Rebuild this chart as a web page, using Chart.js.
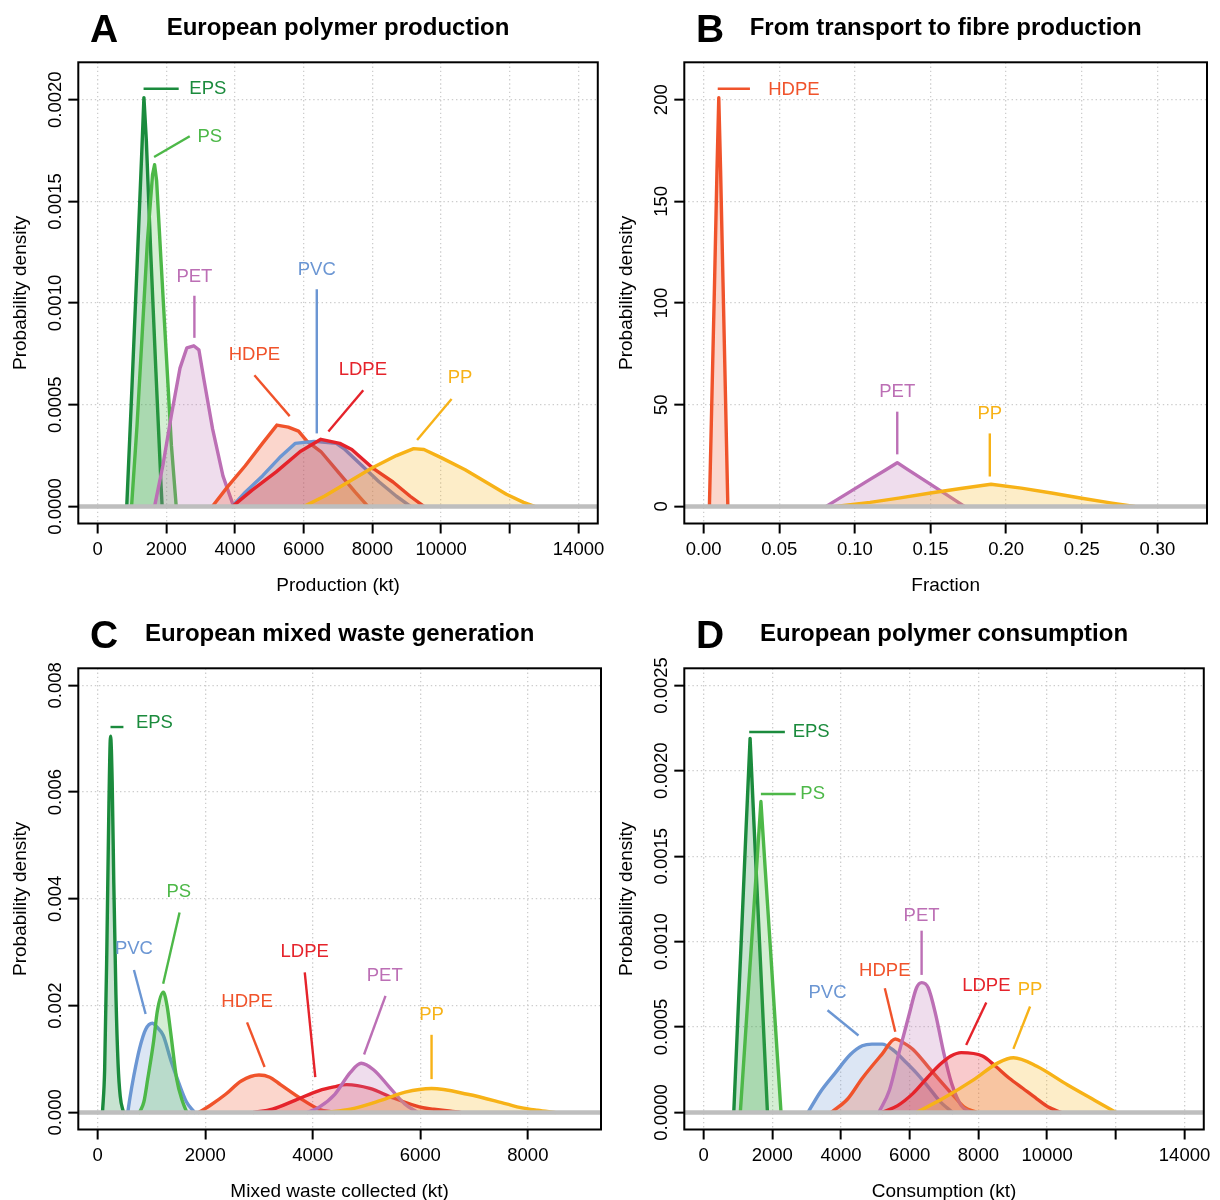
<!DOCTYPE html>
<html>
<head>
<meta charset="utf-8">
<script src="https://cdn.jsdelivr.net/npm/chart.js@4.4.1/dist/chart.umd.min.js"></script>
<style>
html,body{margin:0;padding:0;background:#fff;overflow:hidden;width:1220px;height:1200px;}
.panel{position:absolute;width:610px;height:600px;}
canvas{display:block;}
</style>
</head>
<body>
<div class="panel" style="left:0;top:0"><canvas id="cA" width="610" height="600"></canvas></div>
<div class="panel" style="left:606px;top:0"><canvas id="cB" width="610" height="600"></canvas></div>
<div class="panel" style="left:0;top:606px"><canvas id="cC" width="610" height="600"></canvas></div>
<div class="panel" style="left:606px;top:606px"><canvas id="cD" width="610" height="600"></canvas></div>
<script>
// ---------------- DATA ----------------
// Panel A: European polymer production (x = kt, y = probability density)
const A_EPS  = [[850,0],[1000,0.00058],[1150,0.00118],[1280,0.00171],[1350,0.00201],[1420,0.0018],[1550,0.00124],[1700,0.00066],[1850,0.0001],[1880,0]];
const A_PS   = [[990,0],[1150,0.0004],[1300,0.00085],[1450,0.0013],[1600,0.00163],[1660,0.00168],[1720,0.0016],[1850,0.0012],[2000,0.00075],[2150,0.0003],[2290,0]];
const A_PET  = [[1660,0],[1900,0.0002],[2150,0.00045],[2400,0.00068],[2600,0.00078],[2800,0.00079],[2950,0.00077],[3100,0.00062],[3350,0.00038],[3650,0.00015],[3960,0]];
const A_HDPE = [[3340,0],[3800,0.0001],[4300,0.0002],[4800,0.00031],[5220,0.0004],[5550,0.00039],[5850,0.00037],[6100,0.00032],[6500,0.00027],[7000,0.00017],[7500,0.00007],[7870,0]];
const A_PVC  = [[3920,0],[4300,0.00007],[4800,0.00015],[5300,0.00024],[5750,0.00031],[6300,0.00032],[6950,0.00031],[7200,0.00028],[7700,0.0002],[8200,0.00012],[8700,0.00005],[9110,0]];
const A_LDPE = [[3930,0],[4500,0.00008],[5200,0.00017],[5900,0.00027],[6500,0.00033],[7050,0.00031],[7400,0.00028],[8000,0.00019],[8600,0.00012],[9100,0.00005],[9500,0]];
const A_PP   = [[6000,0],[6600,0.00005],[7300,0.00012],[8000,0.00019],[8700,0.00025],[9200,0.000284],[9500,0.00028],[10000,0.00024],[10700,0.00018],[11300,0.00012],[11900,0.00006],[12400,0.00002],[12720,0]];
const A_xTicks  = [0,2000,4000,6000,8000,10000,12000,14000];
const A_xLabels = ['0','2000','4000','6000','8000','10000','','14000'];
const A_yTicks  = [0,0.0005,0.001,0.0015,0.002];
const A_yLabels = ['0.0000','0.0005','0.0010','0.0015','0.0020'];
const A_notes = [
  {name:'EPS',  align:'left',   at:[2671,0.002051],  line:[[1340,0.002054],[2362,0.002054]]},
  {name:'PS',   align:'left',   at:[2909,0.001816],  line:[[1646,0.001718],[2683,0.00182]]},
  {name:'PET',  align:'center', at:[2819,0.00113],   line:[[2819,0.001036],[2819,0.000829]]},
  {name:'HDPE', align:'center', at:[4566,0.000744],  line:[[4566,0.000645],[5592,0.000444]]},
  {name:'PVC',  align:'center', at:[6381,0.001162],  line:[[6381,0.001068],[6381,0.000359]]},
  {name:'LDPE', align:'center', at:[7723,0.000673],  line:[[7734,0.000571],[6719,0.000368]]},
  {name:'PP',   align:'center', at:[10552,0.000632], line:[[10305,0.000528],[9301,0.000327]]}
];

// Panel B: From transport to fibre production (x = fraction)
const B_HDPE = [[0.0038,0],[0.0055,55],[0.0072,110],[0.0088,165],[0.0100,201],[0.0112,165],[0.0128,110],[0.0144,55],[0.0160,0]];
const B_PET  = [[0.081,0],[0.095,6.4],[0.11,13.3],[0.12,17.8],[0.128,21.5],[0.135,18.1],[0.145,13.3],[0.158,7],[0.1725,0]];
const B_PP   = [[0.087,0],[0.11,2],[0.13,4.2],[0.15,6.6],[0.17,8.8],[0.19,10.9],[0.21,9],[0.23,6.6],[0.25,4],[0.27,1.6],[0.285,0]];
const B_xTicks  = [0,0.05,0.10,0.15,0.20,0.25,0.30];
const B_xLabels = ['0.00','0.05','0.10','0.15','0.20','0.25','0.30'];
const B_yTicks  = [0,50,100,150,200];
const B_yLabels = ['0','50','100','150','200'];
const B_notes = [
  {name:'HDPE', align:'left',   at:[0.0427,205],   line:[[0.0093,205.4],[0.0306,205.4]]},
  {name:'PET',  align:'center', at:[0.128,56.2],   line:[[0.128,46.6],[0.128,25.6]]},
  {name:'PP',   align:'center', at:[0.1892,45.5],  line:[[0.1892,35.9],[0.1892,14.7]]}
];

// Panel C: European mixed waste generation
const C_EPS  = [[90,0],[130,0.0008],[170,0.003],[210,0.0058],[240,0.00705],[270,0.0062],[300,0.0043],[340,0.0022],[380,0.0009],[420,0.0003],[480,0]];
const C_PVC  = [[560,0],[600,0.00027],[675,0.0007],[780,0.0012],[890,0.00155],[1020,0.00167],[1100,0.0016],[1220,0.00144],[1360,0.00098],[1510,0.00055],[1650,0.0002],[1800,0]];
const C_PS   = [[780,0],[860,0.0002],[930,0.00062],[1040,0.00133],[1110,0.0019],[1220,0.00225],[1290,0.002],[1360,0.00148],[1470,0.00062],[1580,0.0002],[1660,0]];
const C_HDPE = [[1880,0],[2090,0.00013],[2380,0.00034],[2670,0.00059],[3000,0.0007],[3200,0.00066],[3400,0.00052],[3760,0.00027],[4120,0.00006],[4400,0]];
const C_LDPE = [[2900,0],[3250,0.00006],[3680,0.00023],[4120,0.00041],[4400,0.00048],[4630,0.00052],[5060,0.00045],[5500,0.00027],[6000,0.0001],[6250,0.00006],[6600,0.00002],[6750,0]];
const C_PET  = [[3900,0],[4120,0.0001],[4410,0.00034],[4700,0.00075],[4900,0.00092],[5130,0.0008],[5420,0.00048],[5710,0.00016],[5950,0]];
const C_PP   = [[4250,0],[4700,0.00006],[5280,0.00023],[5720,0.00038],[6210,0.000447],[6880,0.00034],[7600,0.00016],[7870,0.00009],[8180,0.00004],[8500,0]];
const C_xTicks  = [0,2000,4000,6000,8000];
const C_xLabels = ['0','2000','4000','6000','8000'];
const C_yTicks  = [0,0.002,0.004,0.006,0.008];
const C_yLabels = ['0.000','0.002','0.004','0.006','0.008'];
const C_notes = [
  {name:'EPS',  align:'left',   at:[711,0.0073],    line:[[239,0.00722],[479,0.00722]]},
  {name:'PS',   align:'center', at:[1509,0.004135], line:[[1523,0.003745],[1218,0.002411]]},
  {name:'PVC',  align:'center', at:[675,0.003071],  line:[[675,0.002667],[892,0.001844]]},
  {name:'HDPE', align:'center', at:[2778,0.002078], line:[[2778,0.001688],[3104,0.000851]]},
  {name:'LDPE', align:'center', at:[3851,0.003],    line:[[3851,0.002624],[4047,0.00066]]},
  {name:'PET',  align:'center', at:[5338,0.002553], line:[[5353,0.002184],[4954,0.001085]]},
  {name:'PP',   align:'center', at:[6209,0.00183],  line:[[6209,0.001454],[6209,0.000624]]}
];

// Panel D: European polymer consumption
const D_EPS  = [[880,0],[1000,0.00056],[1120,0.00111],[1240,0.00167],[1355,0.00219],[1470,0.00168],[1580,0.00121],[1700,0.00069],[1860,0]];
const D_PS   = [[1070,0],[1200,0.00039],[1350,0.00085],[1500,0.0013],[1670,0.00182],[1800,0.00141],[1950,0.00095],[2100,0.00048],[2255,0]];
const D_PVC  = [[3040,0],[3400,0.00012],[3830,0.00023],[4280,0.00034],[4620,0.00039],[4900,0.0004],[5200,0.0004],[5550,0.00036],[5860,0.0003],[6200,0.00023],[6540,0.00015],[6900,0.00006],[7250,0]];
const D_HDPE = [[3720,0],[4200,0.00008],[4620,0.0002],[5190,0.00034],[5580,0.00043],[5800,0.00041],[6090,0.00037],[6650,0.00024],[7220,0.00011],[7600,0.00003],[7950,0]];
const D_PET  = [[5100,0],[5410,0.00013],[5690,0.00035],[5980,0.00057],[6200,0.00073],[6350,0.00076],[6540,0.00073],[6760,0.00057],[6990,0.00035],[7220,0.00017],[7500,0.00004],[7800,0]];
const D_LDPE = [[5200,0],[5650,0.00004],[6090,0.00011],[6500,0.0002],[6880,0.00028],[7200,0.00033],[7500,0.00035],[8120,0.00033],[8500,0.00027],[8900,0.0002],[9300,0.00014],[9700,0.00008],[10050,0.00003],[10400,0]];
const D_PP   = [[6200,0],[6990,0.000084],[7890,0.000195],[8570,0.00029],[9020,0.00032],[9700,0.00027],[10600,0.00016],[11390,0.00007],[12010,0]];
const D_xTicks  = [0,2000,4000,6000,8000,10000,12000,14000];
const D_xLabels = ['0','2000','4000','6000','8000','10000','','14000'];
const D_yTicks  = [0,0.0005,0.001,0.0015,0.002,0.0025];
const D_yLabels = ['0.0000','0.0005','0.0010','0.0015','0.0020','0.0025'];
const D_notes = [
  {name:'EPS',  align:'left',   at:[2593,0.002227], line:[[1330,0.002227],[2367,0.002227]]},
  {name:'PS',   align:'left',   at:[2818,0.001864], line:[[1669,0.001864],[2683,0.001864]]},
  {name:'PVC',  align:'center', at:[3608,0.0007],   line:[[4510,0.00045],[3608,0.000598]]},
  {name:'HDPE', align:'center', at:[5276,0.000827], line:[[5581,0.000472],[5276,0.000727]]},
  {name:'PET',  align:'center', at:[6347,0.001152], line:[[6347,0.001064],[6347,0.000805]]},
  {name:'LDPE', align:'center', at:[8230,0.000742], line:[[7644,0.000395],[8230,0.000643]]},
  {name:'PP',   align:'center', at:[9504,0.00072],  line:[[9019,0.000372],[9504,0.00062]]}
];

// ---------------- STYLE ----------------
const FAMILY = '"Liberation Sans", Arial, Helvetica, sans-serif';
const COLORS = {EPS:'#1b8b3d', PS:'#4db848', PET:'#bc6fb5', HDPE:'#f0532b', PVC:'#6b96d3', LDPE:'#e5232b', PP:'#f7b217'};
const W = 610, H = 600;
const AREA = {left:78.3, top:62.3, right:601, bottom:523.5};
const TICK_SIZE = 18.5, TITLE_SIZE = 19;

function rgba(hex, a){ const n = parseInt(hex.slice(1),16); return `rgba(${n>>16},${(n>>8)&255},${n&255},${a})`; }
function widest(labels, size){
  const c = document.createElement('canvas').getContext('2d');
  c.font = `${size}px ${FAMILY}`;
  return Math.max(...labels.map(l => c.measureText(l).width));
}

function panelPlugin(p){
  return {
    id: 'panel' + p.letter,
    afterDatasetsDraw(chart){
      const {ctx, scales:{x, y}} = chart;
      ctx.save();
      ctx.lineCap = 'butt';
      p.notes.forEach(n => {
        const col = COLORS[n.name];
        ctx.strokeStyle = col; ctx.lineWidth = 2.4;
        ctx.beginPath();
        ctx.moveTo(x.getPixelForValue(n.line[0][0]), y.getPixelForValue(n.line[0][1]));
        ctx.lineTo(x.getPixelForValue(n.line[1][0]), y.getPixelForValue(n.line[1][1]));
        ctx.stroke();
        ctx.fillStyle = col;
        ctx.font = `${TICK_SIZE}px ${FAMILY}`;
        ctx.textAlign = n.align; ctx.textBaseline = 'middle';
        ctx.fillText(n.name, x.getPixelForValue(n.at[0]), y.getPixelForValue(n.at[1]));
      });
      ctx.restore();
    },
    afterDraw(chart){
      const {ctx, chartArea:ca} = chart;
      ctx.save();
      ctx.strokeStyle = '#000'; ctx.lineWidth = 2;
      ctx.strokeRect(ca.left, ca.top, ca.right - ca.left, ca.bottom - ca.top);
      ctx.fillStyle = '#000'; ctx.textBaseline = 'alphabetic';
      ctx.font = `bold 39px ${FAMILY}`; ctx.textAlign = 'left';
      ctx.fillText(p.letter, 90, 42);
      ctx.font = `bold 24px ${FAMILY}`; ctx.textAlign = 'center';
      ctx.fillText(p.title, (ca.left + ca.right) / 2, 34.5);
      ctx.restore();
    }
  };
}

function makeChart(id, p){
  const datasets = p.series.map((s, i) => ({
    label: s.name,
    data: s.pts.map(([x, y]) => ({x, y})),
    borderColor: COLORS[s.name],
    backgroundColor: rgba(COLORS[s.name], 0.24),
    borderWidth: 3.4,
    pointRadius: 0, pointHoverRadius: 0,
    fill: 'origin',
    tension: s.smooth ? 0.4 : 0,
    cubicInterpolationMode: s.smooth ? 'monotone' : 'default',
    borderJoinStyle: 'round', borderCapStyle: 'round',
    order: p.series.length - i + 1
  }));
  datasets.push({label:'zero', data:[{x:p.xMin, y:0},{x:p.xMax, y:0}], borderColor:'#bebebe', borderWidth:4.5,
                 pointRadius:0, fill:false, tension:0, order:0});
  const yPad = 12.8 - widest(p.yLabels, TICK_SIZE) / 2;
  const gridCfg = {color:'#cdcdcd', lineWidth:1.3, drawTicks:true, tickLength:10, tickColor:'#000', tickWidth:2};
  new Chart(document.getElementById(id), {
    type: 'line',
    data: {datasets},
    plugins: [panelPlugin(p)],
    options: {
      responsive: false, animation: false, events: [],
      layout: {padding: {left:0, top:AREA.top, right:W - AREA.right, bottom:0}},
      plugins: {legend:{display:false}, tooltip:{enabled:false}, title:{display:false},
                filler:{drawTime:'beforeDatasetDraw', propagate:false}},
      scales: {
        x: {
          type:'linear', bounds:'data', min:p.xMin, max:p.xMax,
          afterBuildTicks: s => { s.ticks = p.xTicks.map(v => ({value:v})); },
          afterFit: s => { s.height = H - AREA.bottom; },
          ticks: {autoSkip:false, minRotation:0, maxRotation:0, padding:5.4, color:'#000',
                  font:{family:FAMILY, size:TICK_SIZE}, callback:(v, i) => p.xLabels[i]},
          grid: gridCfg,
          border: {display:false, dash:[1.4,2.8]},
          title: {display:true, text:p.xTitle, color:'#000', font:{family:FAMILY, size:TITLE_SIZE}, padding:{top:0, bottom:3}}
        },
        y: {
          type:'linear', bounds:'data', min:p.yMin, max:p.yMax,
          afterBuildTicks: s => { s.ticks = p.yTicks.map(v => ({value:v})); },
          afterFit: s => { s.width = AREA.left; },
          ticks: {autoSkip:false, minRotation:90, maxRotation:90, crossAlign:'center', padding:yPad, color:'#000',
                  font:{family:FAMILY, size:TICK_SIZE}, callback:(v, i) => p.yLabels[i]},
          grid: gridCfg,
          border: {display:false, dash:[1.4,2.8]},
          title: {display:true, text:'Probability density', color:'#000', font:{family:FAMILY, size:TITLE_SIZE}, padding:{top:9.5, bottom:0}}
        }
      }
    }
  });
}

makeChart('cA', {
  letter:'A', title:'European polymer production', xTitle:'Production (kt)',
  xMin:-560, xMax:14560, yMin:-0.000084, yMax:0.002184,
  xTicks:A_xTicks, xLabels:A_xLabels, yTicks:A_yTicks, yLabels:A_yLabels, notes:A_notes,
  series:[{name:'EPS',pts:A_EPS},{name:'PS',pts:A_PS},{name:'PET',pts:A_PET},{name:'HDPE',pts:A_HDPE},
          {name:'PVC',pts:A_PVC},{name:'LDPE',pts:A_LDPE},{name:'PP',pts:A_PP}]
});
makeChart('cB', {
  letter:'B', title:'From transport to fibre production', xTitle:'Fraction',
  xMin:-0.0128, xMax:0.3328, yMin:-8.4, yMax:218.4,
  xTicks:B_xTicks, xLabels:B_xLabels, yTicks:B_yTicks, yLabels:B_yLabels, notes:B_notes,
  series:[{name:'HDPE',pts:B_HDPE},{name:'PET',pts:B_PET},{name:'PP',pts:B_PP}]
});
makeChart('cC', {
  letter:'C', title:'European mixed waste generation', xTitle:'Mixed waste collected (kt)',
  xMin:-360, xMax:9360, yMin:-0.00032, yMax:0.00832,
  xTicks:C_xTicks, xLabels:C_xLabels, yTicks:C_yTicks, yLabels:C_yLabels, notes:C_notes,
  series:[{name:'EPS',pts:C_EPS,smooth:true},{name:'PVC',pts:C_PVC,smooth:true},{name:'PS',pts:C_PS,smooth:true},
          {name:'HDPE',pts:C_HDPE,smooth:true},{name:'LDPE',pts:C_LDPE,smooth:true},{name:'PET',pts:C_PET,smooth:true},
          {name:'PP',pts:C_PP,smooth:true}]
});
makeChart('cD', {
  letter:'D', title:'European polymer consumption', xTitle:'Consumption (kt)',
  xMin:-560, xMax:14560, yMin:-0.0001, yMax:0.0026,
  xTicks:D_xTicks, xLabels:D_xLabels, yTicks:D_yTicks, yLabels:D_yLabels, notes:D_notes,
  series:[{name:'EPS',pts:D_EPS},{name:'PS',pts:D_PS},{name:'PVC',pts:D_PVC,smooth:true},{name:'HDPE',pts:D_HDPE,smooth:true},
          {name:'PET',pts:D_PET,smooth:true},{name:'LDPE',pts:D_LDPE,smooth:true},{name:'PP',pts:D_PP,smooth:true}]
});
</script>
</body>
</html>
